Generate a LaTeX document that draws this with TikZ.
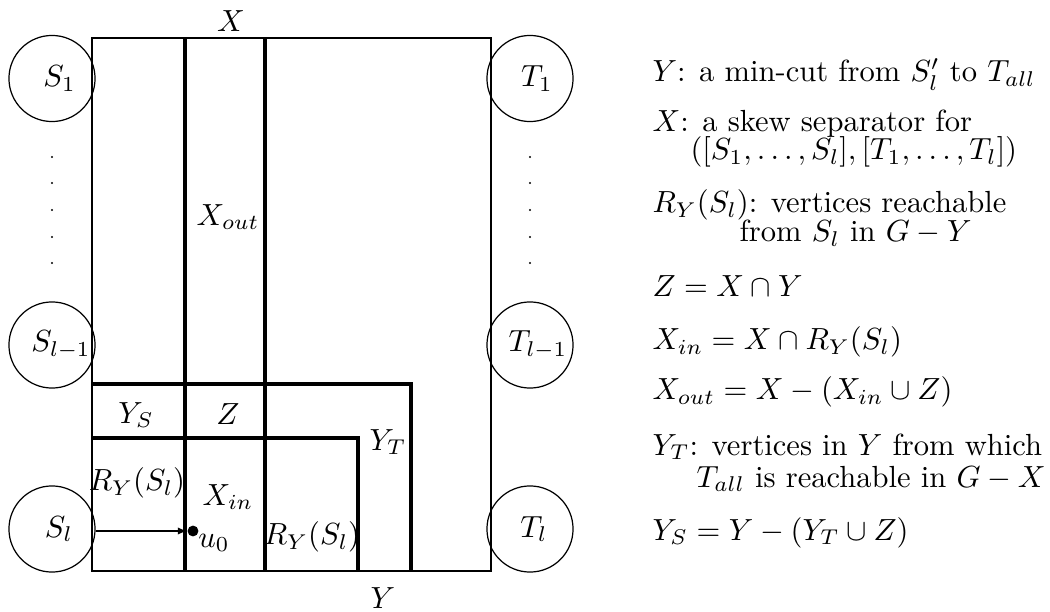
\documentclass[tikz,border=0pt]{standalone}
\usepackage{amsmath,amssymb}
\usetikzlibrary{arrows.meta, positioning}

\tikzset{
  site/.style={circle, draw, minimum size=0.99cm, inner sep=0pt},
  cutline/.style={line width=1pt},
  legend/.style={anchor=base west, inner sep=0pt},
}

\begin{document}
\begin{tikzpicture}[x=0.115cm, y=-0.115cm]
  \useasboundingbox (0,0) rectangle (105,61.2);
  % the graph and the two cuts
  \draw (9.2,3.8) rectangle (49.1,57.1);
  \draw[cutline] (18.5,3.8) -- (18.5,57.1);
  \draw[cutline] (26.5,3.8) -- (26.5,57.1);
  \draw[cutline] (9.2,38.4) -- (41.1,38.4) -- (41.1,57.1);
  \draw[cutline] (9.2,43.8) -- (35.8,43.8) -- (35.8,57.1);
  % sources and sinks
  \node[site] (s1) at (5.2,7.85) {};
  \node[site] (sl1) at (5.2,34.5) {};
  \node[site] (sl) at (5.2,52.9) {};
  \node[site] (t1) at (53.0,7.85) {};
  \node[site] (tl1) at (53.0,34.5) {};
  \node[site] (tl) at (53.0,52.9) {};
  \node (s1txt) at (5.95,7.85) {$S_1$};
  \node (sl1txt) at (6.1,34.5) {$S_{l-1}$};
  \node (sltxt) at (5.9,52.9) {$S_l$};
  \node (t1txt) at (53.7,7.85) {$T_1$};
  \node (tl1txt) at (53.8,34.5) {$T_{l-1}$};
  \node (tltxt) at (53.4,52.9) {$T_l$};
  \foreach \y in {15.7,18.3,21.0,23.7,26.3} {
    \fill (5.2,\y) circle (0.4pt);
    \fill (53.0,\y) circle (0.4pt);
  }
  % regions
  \node (xlbl) at (23.1,2.1) {$X$};
  \node (ylbl) at (38.3,59.8) {$Y$};
  \node (xout) at (22.8,21.7) {$X_{out}$};
  \node (ys) at (13.6,41.5) {$Y_S$};
  \node (z) at (22.8,41.4) {$Z$};
  \node (yt) at (38.8,44.2) {$Y_T$};
  \node (rl) at (13.7,48.3) {$R_Y(S_l)$};
  \node (xin) at (22.8,49.7) {$X_{in}$};
  \node (rr) at (31.2,53.7) {$R_Y(S_l)$};
  \node[circle, fill, inner sep=0pt, minimum size=0.125cm] (u0) at (19.3,53.1) {};
  \node (u0lbl) at (21.4,54.3) {$u_0$};
  \draw[-{Latex[length=3pt,width=2.4pt]}] (sl.east |- u0) -- (u0);
  % legend
  \node[legend] (l1) at (65.2,8.2) {$Y$: a min-cut from $S'_l$ to $T_{all}$};
  \node[legend] (l2) at (65.2,13.2) {$X$: a skew separator for};
  \node[legend] (l2b) at (69.0,16.0) {$([S_1,\ldots,S_l],[T_1,\ldots,T_l])$};
  \node[legend] (l3) at (65.2,21.3) {$R_Y(S_l)$: vertices reachable};
  \node[legend] (l3b) at (73.9,24.2) {from $S_l$ in $G-Y$};
  \node[legend] (l4) at (65.2,29.7) {$Z=X\cap Y$};
  \node[legend] (l5) at (65.2,35.0) {$X_{in}=X\cap R_Y(S_l)$};
  \node[legend] (l6) at (65.2,40.0) {$X_{out}=X-(X_{in}\cup Z)$};
  \node[legend] (l7) at (65.2,45.5) {$Y_T$: vertices in $Y$ from which};
  \node[legend] (l7b) at (69.6,48.7) {$T_{all}$ is reachable in $G-X$};
  \node[legend] (l8) at (65.2,54.0) {$Y_S=Y-(Y_T\cup Z)$};
\end{tikzpicture}
\end{document}
